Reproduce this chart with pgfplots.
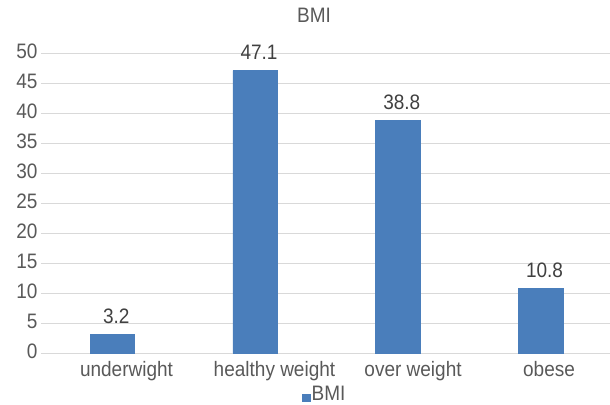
\documentclass[border=0pt]{standalone}
\usepackage{pgfplots}
\pgfplotsset{compat=1.18}
\usepackage{fontspec}
\setmainfont{Liberation Sans}
\definecolor{barblue}{HTML}{4A7EBB}
\definecolor{txtgray}{HTML}{595959}
\definecolor{valgray}{HTML}{404040}
\definecolor{gridgray}{HTML}{D9D9D9}
\newcommand{\cf}{\fontsize{19}{22}\selectfont}
\begin{document}
\begin{tikzpicture}[x=1pt,y=1pt]
\path[use as bounding box] (0,0) rectangle (610,404);
\begin{axis}[
  at={(41pt,50.7pt)}, anchor=south west,
  scale only axis,
  width=569pt, height=300pt,
  xmin=-0.5, xmax=3.487,
  ymin=0, ymax=50,
  ytick={0,5,...,50},
  xtick={0.099,1.136,2.107,3.06},
  xticklabels={underwight,healthy weight,over weight,obese},
  axis line style={draw=none},
  tick style={draw=none},
  ymajorgrids,
  grid style={gridgray, line width=1.4pt},
  ticklabel style={font=\cf, text=txtgray, yscale=1.1},
  yticklabel style={yshift=1.5pt},
  xticklabel style={anchor=base, yshift=-20.7pt},
  /pgf/number format/assume math mode=true,
  title={BMI},
  title style={font=\cf, text=txtgray, yscale=1.1, at={(0.48,1)}, anchor=base, yshift=22.3pt},
  legend style={at={(0.498,-0.1357)}, anchor=center, draw=none, font=\cf, text=txtgray, inner sep=0pt,
    nodes={inner sep=1pt, yscale=1.1}},
  legend image code/.code={\fill[barblue] (0pt,-7pt) rectangle (8pt,0pt);},
  nodes near coords,
  every node near coord/.append style={font=\cf, text=valgray, yscale=1.1, anchor=base, yshift=9.8pt, xshift=4pt},
  point meta=explicit symbolic,
]
\addplot[ybar, bar width=44.5pt, fill=barblue, draw=barblue] coordinates {
  (0,3.2) [3.2]
  (1,47.1) [47.1]
  (2,38.8) [38.8]
  (3,10.8) [10.8]
};
\addlegendentry{BMI}
\end{axis}
\end{tikzpicture}
\end{document}
